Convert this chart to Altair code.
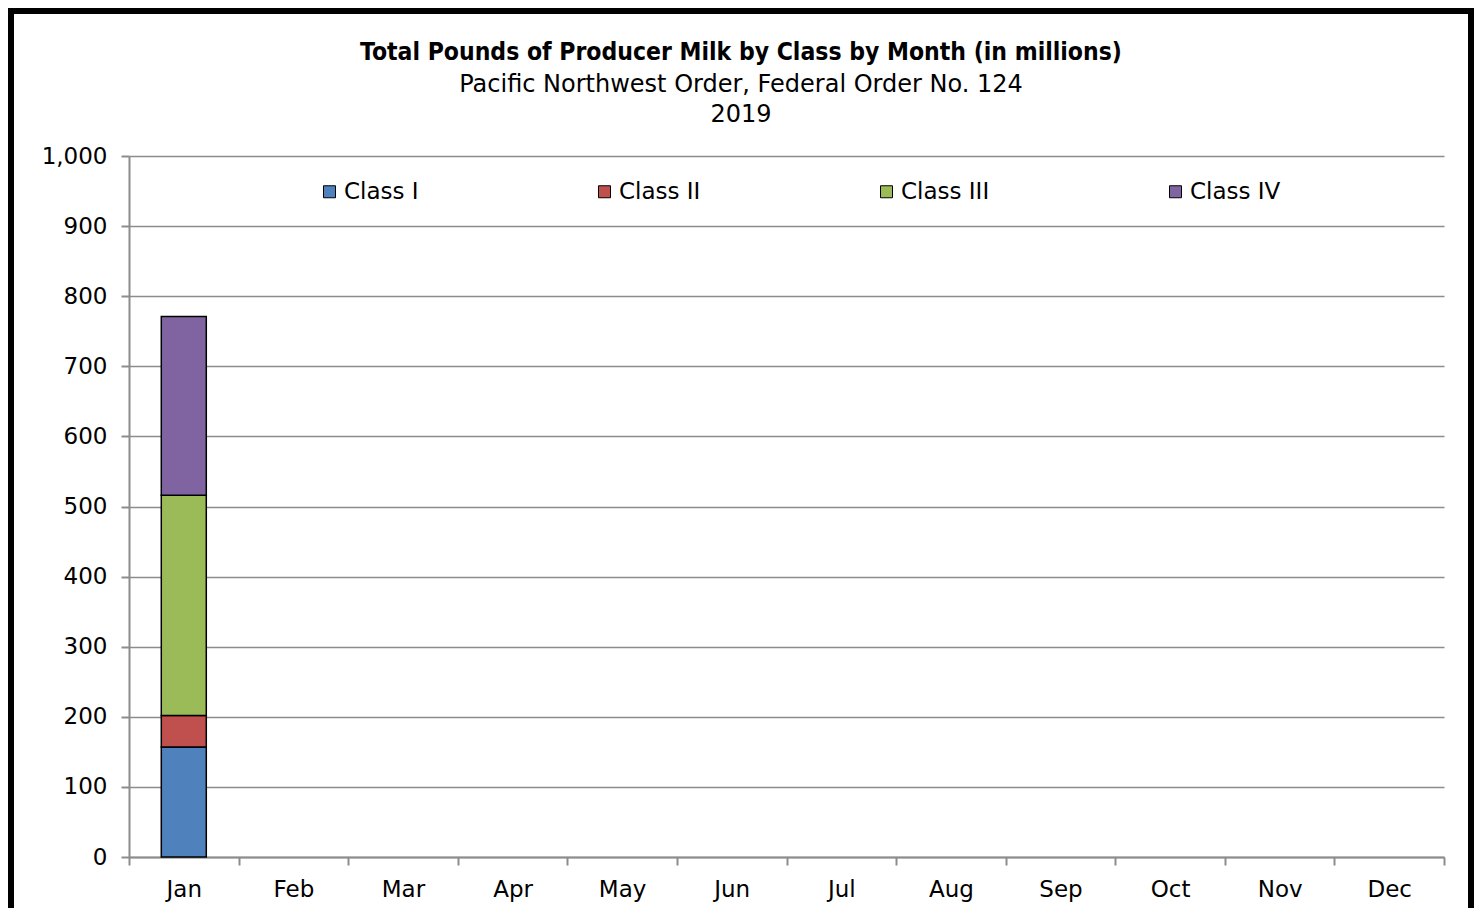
import altair as alt
import pandas as pd

months = ["Jan", "Feb", "Mar", "Apr", "May", "Jun", "Jul", "Aug", "Sep", "Oct", "Nov", "Dec"]
classes = ["Class I", "Class II", "Class III", "Class IV"]
colors = ["#4F81BD", "#C0504D", "#9BBB59", "#8064A2"]
# millions of pounds, only January reported
class_i = [157] + [None] * 11
class_ii = [45] + [None] * 11
class_iii = [314] + [None] * 11
class_iv = [255] + [None] * 11

title_text = "Total Pounds of Producer Milk by Class by Month (in millions)"
subtitle_1 = "Pacific Northwest Order, Federal Order No. 124"
subtitle_2 = "2019"

FONT = "Tahoma, DejaVu Sans"
BOLD_FONT = "Tahoma, DejaVu Sans Condensed, DejaVu Sans"

rows = []
for series, name in zip([class_i, class_ii, class_iii, class_iv], classes):
    for m, v in zip(months, series):
        if v is not None:
            rows.append({"Month": m, "Class": name, "Pounds": v, "order": classes.index(name)})
df = pd.DataFrame(rows)

W, H = 1315, 701

bars = alt.Chart(df).mark_bar(size=45, stroke="black", strokeWidth=1.5).encode(
    x=alt.X("Month:N", sort=months,
            scale=alt.Scale(domain=months, paddingInner=0, paddingOuter=0),
            axis=alt.Axis(title=None, tickBand="extent", labelAngle=0, grid=False,
                          labelFontSize=23, labelPadding=13, labelColor="black",
                          tickSize=8, tickColor="#8c8c8c", tickWidth=2,
                          domainColor="#8c8c8c", domainWidth=2, labelFont=FONT)),
    y=alt.Y("Pounds:Q", stack="zero", scale=alt.Scale(domain=[0, 1000]),
            axis=alt.Axis(title=None, values=list(range(0, 1001, 100)), format=",.0f",
                          labelFontSize=23, labelPadding=14, labelColor="black",
                          tickSize=8, tickColor="#8c8c8c", tickWidth=2,
                          domainColor="#8c8c8c", domainWidth=2,
                          gridColor="#8c8c8c", gridWidth=1.5, labelFont=FONT)),
    color=alt.Color("Class:N", scale=alt.Scale(domain=classes, range=colors),
                    legend=alt.Legend(orient="none", legendX=189, legendY=24,
                                      direction="horizontal", title=None,
                                      symbolType="square", symbolSize=144,
                                      symbolStrokeColor="black", symbolStrokeWidth=1,
                                      labelFontSize=23, labelFont=FONT, labelColor="black",
                                      labelOffset=3, columnPadding=174, padding=0)),
    order=alt.Order("order:Q", sort="ascending"),
)

title_main = alt.Chart(pd.DataFrame({"text": [title_text]})).mark_text(
    font=BOLD_FONT, fontSize=24.5, fontWeight="bold", color="black", align="center", baseline="alphabetic"
).encode(x=alt.value(612), y=alt.value(-96), text="text:N")

title_sub1 = alt.Chart(pd.DataFrame({"text": [subtitle_1]})).mark_text(
    font=FONT, fontSize=24, color="black", align="center", baseline="alphabetic"
).encode(x=alt.value(612), y=alt.value(-64), text="text:N")

title_sub2 = alt.Chart(pd.DataFrame({"text": [subtitle_2]})).mark_text(
    font=FONT, fontSize=24, color="black", align="center", baseline="alphabetic"
).encode(x=alt.value(612), y=alt.value(-34), text="text:N")

frame = alt.Chart(pd.DataFrame({"a": [0]})).mark_rect(
    fill=None, stroke="black", strokeWidth=6, clip=False
).encode(x=alt.value(-118), x2=alt.value(1342), y=alt.value(-145), y2=alt.value(800))

chart = alt.layer(frame, bars, title_main, title_sub1, title_sub2).properties(
    width=W, height=H,
    autosize=alt.AutoSizeParams(type="none"),
    padding={"left": 121, "top": 148, "right": 30, "bottom": 51},
    background="white",
).configure_view(stroke=None).configure_axis(labelFont=FONT)

chart.save("out.html", embed_options={"renderer": "svg", "actions": False})
